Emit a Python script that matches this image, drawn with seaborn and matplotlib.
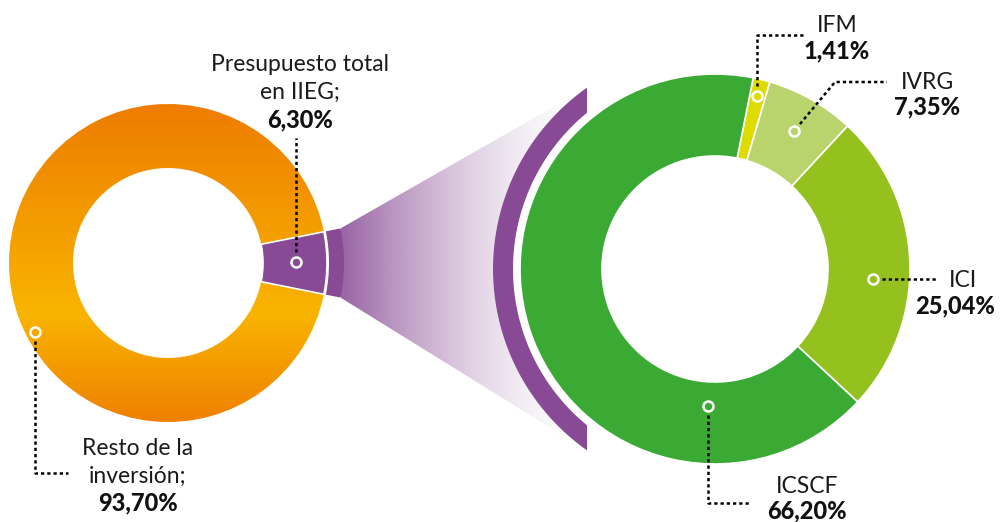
import numpy as np
import matplotlib.pyplot as plt
import seaborn as sns
from matplotlib.colors import LinearSegmentedColormap, to_rgb
from matplotlib.patches import Wedge, PathPatch
from matplotlib.path import Path

# data
left_labels = ["Presupuesto total\nen IIEG;", "Resto de la\ninversión;"]
left_values = [6.30, 93.70]
right_labels = ["IFM", "IVRG", "ICI", "ICSCF"]
right_values = [1.41, 7.35, 25.04, 66.20]

PURPLE = "#884a95"
right_colors = ["#dddb00", "#b9d46c", "#95c11f", "#3aaa35"]

W, H = 1000, 522


def Y(y):
    # image-style y (top down) -> axis y
    return H - y


sns.set_theme(style="white")
plt.rcParams["font.family"] = ["Lato", "DejaVu Sans"]

fig = plt.figure(figsize=(10, 5.22), dpi=100)
ax = fig.add_axes([0, 0, 1, 1])

# --- left donut
lc = (168, Y(263))
lr, lwid = 159, 64
half = left_values[0] * 3.6 / 2
lwedges, _ = ax.pie(
    left_values, colors=[PURPLE, "#f5a300"], startangle=-half,
    center=lc, radius=lr,
    wedgeprops=dict(width=lwid, edgecolor="white", linewidth=1.2),
)
lwedges[0].set_zorder(3)

orange = LinearSegmentedColormap.from_list(
    "orange", [(0, "#ee7c00"), (0.35, "#f39a00"), (0.66, "#f9b400"), (1, "#ef8000")]
)
grad = np.linspace(0, 1, 256).reshape(-1, 1)
im = ax.imshow(grad, cmap=orange, origin="upper", aspect="auto", zorder=2,
               extent=(lc[0] - lr, lc[0] + lr, lc[1] - lr, lc[1] + lr))
im.set_clip_path(lwedges[1])

# small purple arc next to the slice
sb_in, sb_out = lr + 2, lr + 17
ax.add_patch(Wedge(lc, sb_out, -half, half, width=sb_out - sb_in,
                   facecolor=PURPLE, edgecolor="none", zorder=3))

# --- right donut
rc = (715, Y(269))
rr, rwid = 195, 82
rwedges, _ = ax.pie(
    right_values, colors=right_colors, startangle=90 - 11.3, counterclock=False,
    center=rc, radius=rr,
    wedgeprops=dict(width=rwid, edgecolor="white", linewidth=1.2),
)

# big purple band, cut vertically at x = cut_x
b_in, b_out, cut_x = 202, 222, 587
a_out = np.degrees(np.arccos((cut_x - rc[0]) / b_out))
a_in = np.degrees(np.arccos((cut_x - rc[0]) / b_in))
t_out = np.radians(np.linspace(a_out, 360 - a_out, 120))
t_in = np.radians(np.linspace(360 - a_in, a_in, 120))
outer_arc = np.column_stack([rc[0] + b_out * np.cos(t_out), rc[1] + b_out * np.sin(t_out)])
inner_arc = np.column_stack([rc[0] + b_in * np.cos(t_in), rc[1] + b_in * np.sin(t_in)])
band = np.vstack([outer_arc, inner_arc, outer_arc[:1]])
ax.add_patch(PathPatch(Path(band), facecolor=PURPLE, edgecolor="none", zorder=3))

# funnel with fading purple
ha = np.radians(half)
p_top = (lc[0] + sb_out * np.cos(ha), lc[1] + sb_out * np.sin(ha))
p_bot = (lc[0] + sb_out * np.cos(ha), lc[1] - sb_out * np.sin(ha))
funnel = np.vstack([[p_top], outer_arc, [p_bot], [p_top]])
fpath = Path(funnel)
xs = np.linspace(0, 1, 300)
alpha = 0.86 * (1 - xs) ** 1.6
rgba = np.zeros((2, 300, 4))
rgba[..., :3] = to_rgb(PURPLE)
rgba[..., 3] = alpha
fim = ax.imshow(rgba, origin="upper", aspect="auto", zorder=2,
                extent=(p_top[0], cut_x, outer_arc[:, 1].min(), outer_arc[:, 1].max()))
fim.set_clip_path(fpath, ax.transData)

# --- markers and leader lines (image coords)
markers = [
    ((296, 262), PURPLE),
    ((35, 332), "#f6a800"),
    ((757, 96), right_colors[0]),
    ((794, 131), right_colors[1]),
    ((873, 279), right_colors[2]),
    ((708, 406), right_colors[3]),
]
leaders = [
    [(296, 252), (296, 138)],
    [(35, 341), (35, 473), (68, 473)],
    [(757, 86), (757, 35), (804, 35)],
    [(800, 124), (835, 82), (887, 82)],
    [(882, 279), (936, 279)],
    [(708, 415), (708, 503), (750, 503)],
]
for pts in leaders:
    px, py = zip(*pts)
    ax.plot(px, [Y(v) for v in py], color="black", lw=1.8,
            linestyle=(0, (1.3, 1.2)), zorder=4)
for (mx, my), col in markers:
    ax.scatter(mx, Y(my), s=52, facecolor=col, edgecolor="white", linewidth=1.8, zorder=5)

# --- labels (y = baseline of the last line of the name, then of the percent)
fs = 16.5
pct = lambda v: f"{v:.2f}".replace(".", ",") + "%"
label_pos = [
    (300, 99, 127, left_labels[0], left_values[0]),
    (138, 483, 510, left_labels[1], left_values[1]),
    (837, 32, 58, right_labels[0], right_values[0]),
    (927, 89, 114, right_labels[1], right_values[1]),
    (963, 287, 313, right_labels[2], right_values[2]),
    (807, 493, 518, right_labels[3], right_values[3]),
]
for x, y_name, y_pct, name, val in label_pos:
    ax.text(x, Y(y_name), name, ha="center", va="baseline", fontsize=fs,
            color="#1a1a1a", linespacing=1.4, zorder=6)
    ax.text(min(x, 955), Y(y_pct), pct(val), ha="center", va="baseline",
            fontsize=fs + 0.5, fontweight="black", color="#111111", zorder=6)

ax.set_xlim(0, W)
ax.set_ylim(0, H)
ax.set_aspect("equal")
ax.axis("off")
fig.savefig("out.png", dpi=100)
plt.close(fig)
